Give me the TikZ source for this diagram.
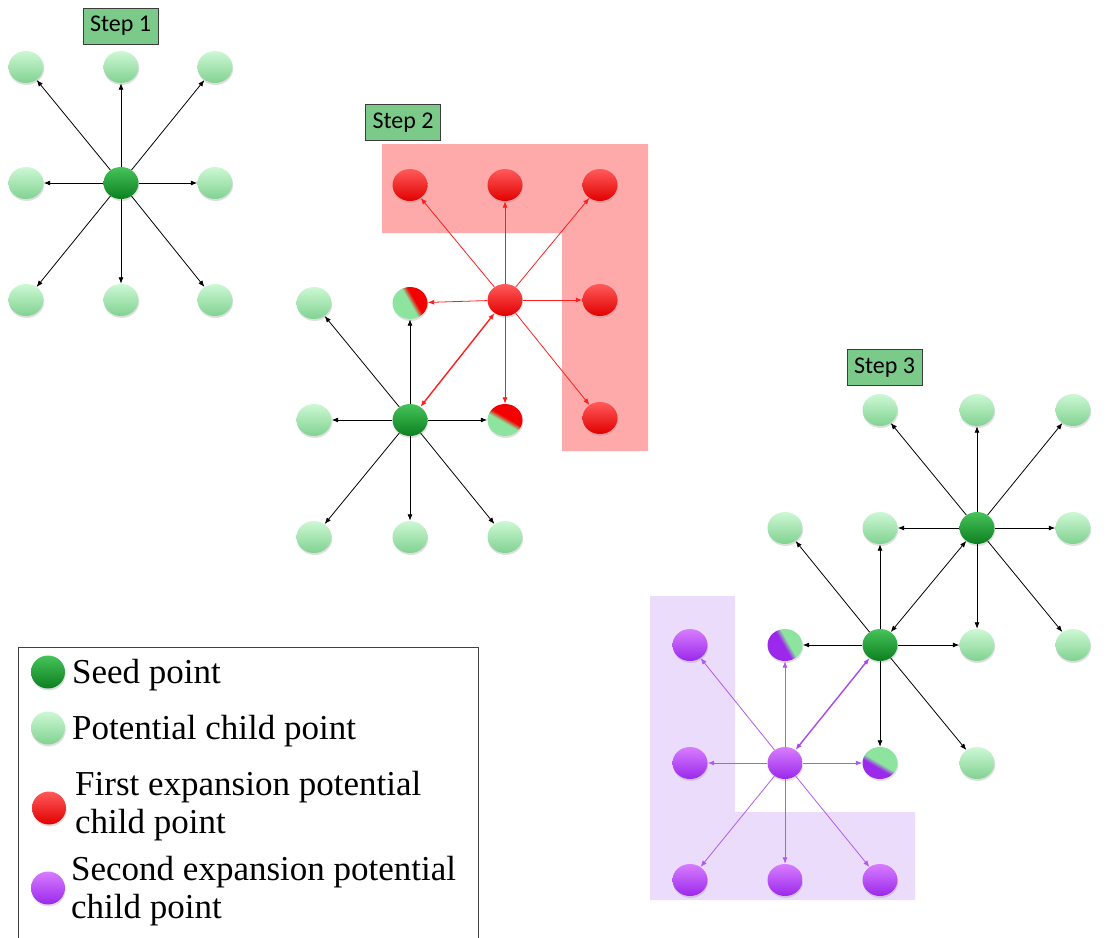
\documentclass[tikz,border=0pt]{standalone}
\usepackage{fontspec}
\setmainfont{Liberation Serif}
\newfontfamily\labelfont{Carlito}
\usetikzlibrary{arrows.meta,shapes.geometric,shadows}

\definecolor{potgreen}{RGB}{140,228,158}
\definecolor{potgreenhi}{RGB}{205,248,212}
\definecolor{seedgreen}{RGB}{14,145,36}
\definecolor{seedgreenhi}{RGB}{70,195,90}
\definecolor{expred}{RGB}{245,0,0}
\definecolor{expredhi}{RGB}{255,90,90}
\definecolor{exppurple}{RGB}{155,40,235}
\definecolor{exppurplehi}{RGB}{215,125,255}
\definecolor{redzone}{RGB}{255,170,170}
\definecolor{purplezone}{RGB}{236,220,252}
\definecolor{stepfill}{RGB}{124,202,138}
\definecolor{stepline}{RGB}{60,60,60}
\definecolor{redarrow}{RGB}{255,30,30}
\definecolor{purplearrow}{RGB}{175,90,245}

% two-colour balls with a soft diagonal boundary
\pgfdeclarehorizontalshading{greenred}{100bp}{color(0bp)=(potgreen); color(50bp)=(potgreen); color(58bp)=(expred); color(100bp)=(expred)}
\pgfdeclarehorizontalshading{greenredmid}{100bp}{color(0bp)=(potgreen); color(46bp)=(potgreen); color(54bp)=(expred); color(100bp)=(expred)}
\pgfdeclarehorizontalshading{purplegreen}{100bp}{color(0bp)=(exppurple); color(48bp)=(exppurple); color(56bp)=(potgreen); color(100bp)=(potgreen)}
\pgfdeclarehorizontalshading{purplegreenlow}{100bp}{color(0bp)=(exppurple); color(42bp)=(exppurple); color(50bp)=(potgreen); color(100bp)=(potgreen)}

\tikzset{
  ball/.style={ellipse, minimum width=35pt, minimum height=32pt, inner sep=0pt,
    drop shadow={shadow xshift=0.6pt, shadow yshift=-2pt, opacity=0.25}},
  potential/.style={ball, top color=potgreenhi, middle color=potgreen, bottom color=potgreen!92!black},
  seed/.style={ball, top color=seedgreenhi, middle color=seedgreen, bottom color=seedgreen!88!black},
  redpt/.style={ball, top color=expredhi, middle color=expred, bottom color=expred!92!black},
  purplept/.style={ball, top color=exppurplehi, middle color=exppurple!85, bottom color=exppurple},
  legendball/.style={minimum width=34pt, minimum height=33pt},
  link/.style={-{Latex[length=6.5pt,width=5pt]}, line width=0.8pt, black},
  twoway/.style={{Latex[length=6.5pt,width=5pt]}-{Latex[length=6.5pt,width=5pt]}, line width=0.8pt, black},
  redlink/.style={link, redarrow},
  redtwoway/.style={twoway, redarrow, line width=1.4pt},
  purplelink/.style={link, purplearrow},
  purpletwoway/.style={twoway, exppurple!85, line width=1.4pt},
  stepbox/.style={draw=stepline, fill=stepfill, line width=0.9pt, minimum width=75pt,
    minimum height=36pt, inner sep=0pt, font=\labelfont\fontsize{24}{28}\selectfont},
  legendtext/.style={anchor=base west, inner sep=0pt, font=\fontsize{35}{40}\selectfont},
}

\begin{document}
\begin{tikzpicture}[x=1pt, y=-1pt]
\useasboundingbox (0,0) rectangle (1115,937);
\clip (0,0) rectangle (1115,937);

% shaded expansion zones
\fill[redzone] (382,144) -- (648,144) -- (648,451) -- (562,451) -- (562,233) -- (382,233) -- cycle;
\fill[purplezone] (650,596) -- (735,596) -- (735,812) -- (915,812) -- (915,900) -- (650,900) -- cycle;

% ---------- Step 1 ----------
\node[stepbox] (step1) at (120.5,26) {Step 1};
\node[seed] (a) at (121,183) {};
\foreach \n/\x/\y in {nw/26/67, n/121/67, ne/215/67, w/26/183, e/215/183, sw/26/300, s/121/300, se/215/300}
  \node[potential] (a-\n) at (\x,\y) {};
\foreach \n in {nw,n,ne,w,e,sw,s,se}
  \draw[link] (a) -- (a-\n);

% ---------- Step 2 ----------
\node[stepbox] (step2) at (403,122.5) {Step 2};
\node[seed] (b) at (410,420) {};
\node[redpt] (r) at (505,300) {};
\foreach \n/\x/\y in {nw/314/303, w/314/420, sw/314/537, s/410/537, se/505/537}
  \node[potential] (b-\n) at (\x,\y) {};
\foreach \n/\x/\y in {nw/410/185, n/505/185, ne/600/185, e/600/300, se/600/418}
  \node[redpt] (r-\n) at (\x,\y) {};
\node[ball, shading=greenred, shading angle=30] (h1) at (410,303) {};
\node[ball, shading=greenredmid, shading angle=60] (h2) at (505,420) {};
\foreach \n in {nw,w,sw,s,se}
  \draw[link] (b) -- (b-\n);
\draw[link] (b) -- (h1);
\draw[link] (b) -- (h2);
\foreach \n in {nw,n,ne,e,se}
  \draw[redlink] (r) -- (r-\n);
\draw[redlink] (r) -- (h1);
\draw[redlink] (r) -- (h2);
\draw[redtwoway] (b) -- (r);

% ---------- Step 3 ----------
\node[stepbox] (step3) at (884.5,367.5) {Step 3};
\node[seed] (c) at (977,528) {};
\node[seed] (d) at (880,645) {};
\node[purplept] (p) at (785,763) {};
\foreach \n/\x/\y in {nw/880/410, n/977/410, ne/1073/410, w/880/528, e/1073/528, s/977/645, se/1073/645}
  \node[potential] (c-\n) at (\x,\y) {};
\node[potential] (d-nw) at (785,528) {};
\node[potential] (d-se) at (977,763) {};
\foreach \n/\x/\y in {nw/690/645, w/690/763, sw/690/880, s/785/880, se/880/880}
  \node[purplept] (p-\n) at (\x,\y) {};
\node[ball, shading=purplegreen, shading angle=30] (h3) at (785,645) {};
\node[ball, shading=purplegreenlow, shading angle=60] (h4) at (880,763) {};
\foreach \n in {nw,n,ne,w,e,s,se}
  \draw[link] (c) -- (c-\n);
\draw[twoway] (c) -- (d);
\draw[link] (d) -- (d-nw);
\draw[link] (d) -- (c-w);
\draw[link] (d) -- (h3);
\draw[link] (d) -- (c-s);
\draw[link] (d) -- (h4);
\draw[link] (d) -- (d-se);
\foreach \n in {nw,w,sw,s,se}
  \draw[purplelink] (p) -- (p-\n);
\draw[purplelink] (p) -- (h3);
\draw[purplelink] (p) -- (h4);
\draw[purpletwoway] (p) -- (d);

% ---------- Legend ----------
\draw[line width=0.9pt, black!75] (18,647) rectangle (478,960);
\node[seed, legendball] (leg-seed) at (48,672) {};
\node[potential, legendball] (leg-pot) at (48,728) {};
\node[redpt, legendball] (leg-red) at (49,808) {};
\node[purplept, legendball] (leg-purple) at (48,888) {};
\node[legendtext] (leg-t1) at (72,683) {Seed point};
\node[legendtext] (leg-t2) at (72,739) {Potential child point};
\node[legendtext] (leg-t3a) at (75,795) {First expansion potential};
\node[legendtext] (leg-t3b) at (75,833) {child point};
\node[legendtext] (leg-t4a) at (71,880) {Second expansion potential};
\node[legendtext] (leg-t4b) at (71,918) {child point};
\end{tikzpicture}
\end{document}
